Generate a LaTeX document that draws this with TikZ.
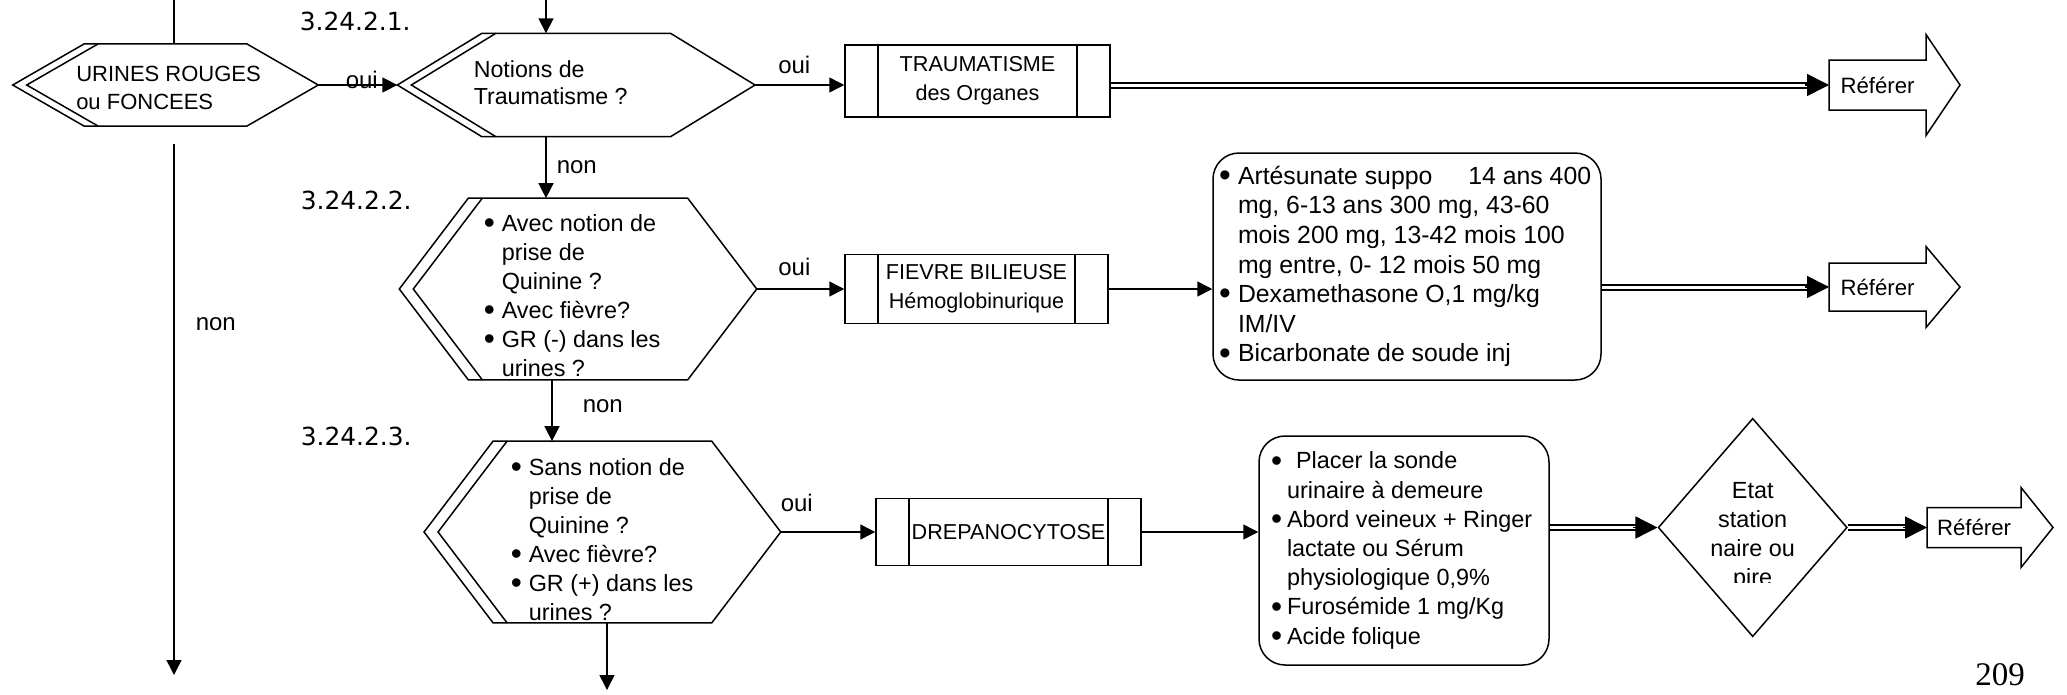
\documentclass[tikz,border=0pt]{standalone}
\usepackage{fontspec}
\usepackage{graphicx}
\setmainfont{Liberation Sans}
\newfontfamily\numfont{DejaVu Sans}
\newfontfamily\pagefont{Liberation Serif}
\usetikzlibrary{arrows.meta,shapes.geometric}

\newcommand\hexframe[3]{%
  \draw (#1.west) -- ([xshift=#2]#1.north west) -- ([xshift=-#2]#1.north east) -- (#1.east)
    -- ([xshift=-#2]#1.south east) -- ([xshift=#2]#1.south west) -- cycle;
  \draw ([xshift=#3]#1.north west) -- ([xshift=14pt]#1.west) -- ([xshift=#3]#1.south west);}
\newcommand\referarrow[3]{%
  \draw (#1.north west) -- (#1.north east) -- ([yshift=#2]#1.north east) -- ([xshift=#3]#1.east)
    -- ([yshift=-#2]#1.south east) -- (#1.south east) -- (#1.south west) -- cycle;}
\newcommand\bul[1][18pt]{\makebox[#1][l]{\raisebox{-0.09em}{\scalebox{1.35}{\textbullet}}}}
\newcommand\cnt[1][18pt]{\makebox[#1]{}}

\begin{document}
\begin{tikzpicture}[x=1pt, y=-1pt, line width=1.5pt,
    frame/.style={inner sep=0pt, outer sep=0pt},
    txt/.style={font=\fontsize{23.4}{29}\selectfont, align=left, inner sep=0pt, anchor=west},
    lbl/.style={font=\fontsize{24}{29}\selectfont, inner sep=0pt},
    secno/.style={font=\numfont\fontsize{24.9}{30}\selectfont, inner sep=0pt, anchor=west},
    procbox/.style={draw, align=center, inner sep=0pt, minimum width=265pt,
      font=\fontsize{21.6}{29}\selectfont,
      path picture={\draw ([xshift=33pt]path picture bounding box.north west) -- ([xshift=33pt]path picture bounding box.south west)
        ([xshift=-33pt]path picture bounding box.north east) -- ([xshift=-33pt]path picture bounding box.south east);}},
    treat/.style={draw, rounded corners=26pt, inner sep=0pt},
    refbody/.style={inner sep=0pt, outer sep=0pt, minimum width=97pt, font=\fontsize{22.2}{26}\selectfont},
    arr/.style={-{Triangle[length=15pt,width=15pt]}},
    dbl/.style={double, double distance=3pt, line width=2pt},
    bigarr/.style={-{Triangle[length=22pt,width=22pt]}}]
\useasboundingbox (0,0) rectangle (2067,694);

\node[frame, minimum width=305.6pt, minimum height=82.3pt] (q1) at (165.5,85) {};
\node[frame, minimum width=357.7pt, minimum height=103.4pt] (q2) at (576.2,85) {};
\node[frame, minimum width=357.4pt, minimum height=181.7pt] (q3) at (578,289) {};
\node[frame, minimum width=356.7pt, minimum height=181.7pt] (q4) at (602.4,532) {};
\hexframe{q1}{71.5pt}{85.5pt}
\hexframe{q2}{84.5pt}{98.5pt}
\hexframe{q3}{69pt}{83pt}
\hexframe{q4}{69pt}{83pt}

\node[txt, font=\fontsize{22}{28.3}\selectfont] (q1t) at (75.5,88) {URINES ROUGES\\ou FONCEES};
\node[txt, font=\fontsize{23.2}{27.7}\selectfont] (q2t) at (473,82.7) {Notions de\\Traumatisme ?};
\node[txt] (q3t) at (483,296) {\bul Avec notion de\\\cnt prise de\\\cnt Quinine ?\\\bul Avec fièvre?\\\bul GR (-) dans les\\\cnt urines ?};
\node[txt] (q4t) at (510,540) {\bul Sans notion de\\\cnt prise de\\\cnt Quinine ?\\\bul Avec fièvre?\\\bul GR (+) dans les\\\cnt urines ?};

\node[secno] (s1) at (299,21.5) {3.24.2.1.};
\node[secno] (s2) at (300,200) {3.24.2.2.};
\node[secno] (s3) at (300,436) {3.24.2.3.};

\node[procbox, minimum height=72pt] (tb1) at (977.5,81) {TRAUMATISME\\des Organes};
\node[procbox, minimum width=263pt, minimum height=69pt] (tb2) at (976.5,289) {FIEVRE BILIEUSE\\Hémoglobinurique};
\node[procbox, minimum height=67pt] (tb3) at (1008.5,532) {DREPANOCYTOSE};

\node[treat, minimum width=388pt, minimum height=227pt] (rb1) at (1407,266.5) {};
\node[txt, font=\fontsize{24.8}{29.6}\selectfont] (rb1t) at ([xshift=6pt]rb1.west)
  {\bul[19pt]Artésunate suppo\hspace{36pt}14 ans 400\\\cnt[19pt]mg, 6-13 ans 300 mg, 43-60\\\cnt[19pt]mois 200 mg, 13-42 mois 100\\\cnt[19pt]mg entre, 0- 12 mois 50 mg\\\bul[19pt]Dexamethasone O,1 mg/kg\\\cnt[19pt]IM/IV\\\bul[19pt]Bicarbonate de soude inj};
\node[treat, minimum width=290pt, minimum height=229pt] (rb2) at (1404,550.5) {};
\node[txt, font=\fontsize{23.4}{29.2}\selectfont] (rb2t) at ([xshift=12pt]rb2.west)
  {\bul[16pt]\hspace{9pt}Placer la sonde\\\cnt[16pt]urinaire à demeure\\\bul[16pt]Abord veineux + Ringer\\\cnt[16pt]lactate ou Sérum\\\cnt[16pt]physiologique 0,9\%\\\bul[16pt]Furosémide 1 mg/Kg\\\bul[16pt]Acide folique};

\node[diamond, draw, minimum width=189pt, minimum height=218.4pt, inner sep=0pt] (dia) at (1752.7,527.5) {};
\begin{scope}
  \clip (1650,400) rectangle (1860,582);
  \node[txt, anchor=center, align=center] (diat) at (1752.7,536) {Etat\\station\\naire ou\\pire};
\end{scope}

\node[refbody, minimum height=50pt] (ref1) at (1877.5,85) {Référer};
\node[refbody, minimum height=48pt] (ref2) at (1877.5,287) {Référer};
\node[refbody, minimum width=94pt, minimum height=40pt] (ref3) at (1974,527.5) {Référer};
\referarrow{ref1}{25.5pt}{34pt}
\referarrow{ref2}{16.5pt}{34pt}
\referarrow{ref3}{20pt}{32pt}

\node[font=\pagefont\fontsize{33}{38}\selectfont, inner sep=0pt] (page) at (2000,675) {209};

\coordinate (in1) at (174,0);
\coordinate (in2) at (546,0);
\coordinate (out1a) at (174,144);
\coordinate (out1b) at (174,675);
\coordinate (out4) at (607,690);

\draw (in1) -- (in1 |- q1.north);
\draw[arr] (out1a) -- node[lbl, anchor=west, xshift=21pt, pos=0.34] (nonL) {non} (out1b);
\draw[arr] (in2) -- (in2 |- q2.north);
\draw[arr] (q1.east) -- node[lbl, anchor=base, yshift=-3pt, pos=0.55] (oui1) {oui} (q2.west);
\draw[arr] (q2.east) -- node[lbl, above=11pt, pos=0.44] (oui2) {oui} (q2.east -| tb1.west);
\draw[arr] (in2 |- q2.south) -- node[lbl, anchor=west, xshift=10pt] (non2) {non} (in2 |- q3.north);
\draw[arr] (q3.east) -- node[lbl, above=13pt, pos=0.43] (oui3) {oui} (tb2.west);
\draw[arr] ([xshift=-26pt]q3.south) -- node[lbl, anchor=west, xshift=30pt, pos=0.43] (non3) {non} ([xshift=-26pt]q3.south |- q4.north);
\draw[arr] (q4.east) -- node[lbl, above=20pt, pos=0.17] (oui4) {oui} (tb3.west);
\draw[arr] (out4 |- q4.south) -- (out4);
\draw[arr] (tb2.east) -- (tb2.east -| rb1.west);
\draw[arr] (tb3.east) -- (tb3.east -| rb2.west);

\draw[dbl] (ref1.west -| tb1.east) -- ([xshift=-20pt]ref1.west);
\draw[bigarr] ([xshift=-24pt]ref1.west) -- (ref1.west);
\draw[dbl] (ref2.west -| rb1.east) -- ([xshift=-20pt]ref2.west);
\draw[bigarr] ([xshift=-24pt]ref2.west) -- (ref2.west);
\draw[dbl] (dia.west -| rb2.east) -- ([xshift=-20pt]dia.west);
\draw[bigarr] ([xshift=-24pt]dia.west) -- (dia.west);
\draw[dbl] (dia.east) -- ([xshift=-20pt]ref3.west);
\draw[bigarr] ([xshift=-24pt]ref3.west) -- (ref3.west);
\end{tikzpicture}
\end{document}
